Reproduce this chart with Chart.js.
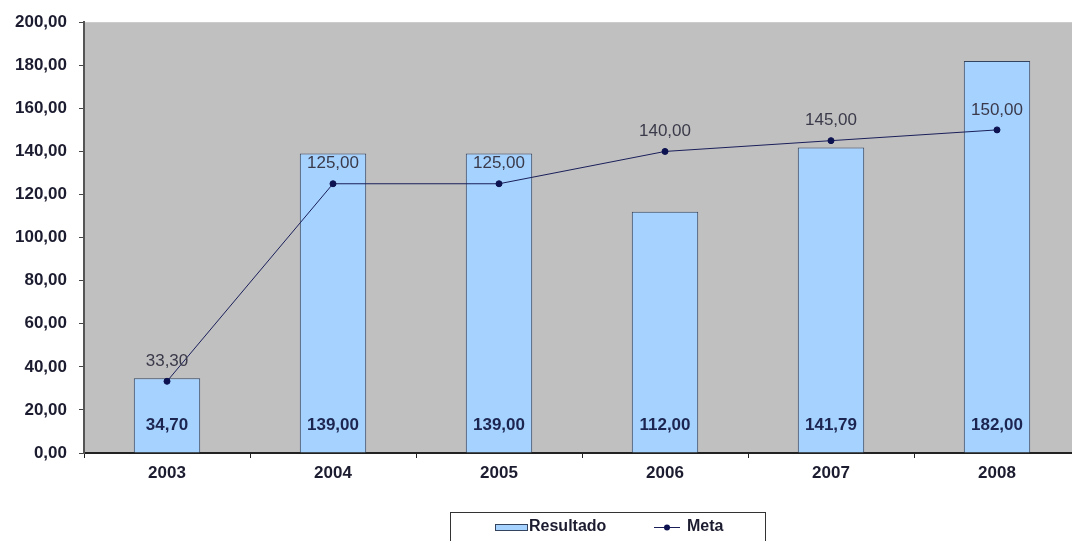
<!DOCTYPE html>
<html>
<head>
<meta charset="utf-8">
<script src="https://cdn.jsdelivr.net/npm/chart.js@4/dist/chart.umd.min.js"></script>
<style>
html,body{margin:0;padding:0;background:#fff;overflow:hidden;width:1072px;height:541px;}
#wrap{width:1085px;height:541px;}
</style>
</head>
<body>
<div id="wrap"><canvas id="c" width="1085" height="541"></canvas></div>
<script>
const categories = ['2003','2004','2005','2006','2007','2008'];
const resultado = [34.70, 139.00, 139.00, 112.00, 141.79, 182.00];
const meta = [33.30, 125.00, 125.00, 140.00, 145.00, 150.00];
const yTicks = [0,20,40,60,80,100,120,140,160,180,200];

const FONT = "'Liberation Sans', Arial, sans-serif";
const fmt = v => v.toFixed(2).replace('.', ',');

const bgPlugin = {
  id: 'plotBg',
  beforeDraw(chart) {
    const {ctx, chartArea: a} = chart;
    ctx.save();
    ctx.fillStyle = '#c0c0c0';
    ctx.fillRect(a.left, a.top, a.right - a.left, a.bottom - a.top);
    ctx.restore();
  }
};

const labelPlugin = {
  id: 'valueLabels',
  afterDatasetsDraw(chart) {
    const {ctx} = chart;
    const y = chart.scales.y;
    ctx.save();
    ctx.textAlign = 'center';
    ctx.textBaseline = 'middle';
    const barMeta = chart.getDatasetMeta(0);
    ctx.font = 'bold 17px ' + FONT;
    ctx.fillStyle = '#1c2550';
    barMeta.data.forEach((el, i) => {
      ctx.fillText(fmt(resultado[i]), el.x, y.getPixelForValue(0) - 28);
    });
    const lineMeta = chart.getDatasetMeta(1);
    ctx.font = '17px ' + FONT;
    ctx.fillStyle = '#3a3a4a';
    lineMeta.data.forEach((el, i) => {
      ctx.fillText(fmt(meta[i]), el.x, el.y - 20);
    });
    ctx.restore();
  }
};

const legendPlugin = {
  id: 'boxLegend',
  afterDraw(chart) {
    const {ctx} = chart;
    ctx.save();
    const bx = 450, by = 512, bw = 315, bh = 40;
    ctx.fillStyle = '#ffffff';
    ctx.fillRect(bx, by, bw, bh);
    ctx.strokeStyle = '#333333';
    ctx.lineWidth = 1;
    ctx.strokeRect(bx + 0.5, by + 0.5, bw, bh);
    const ds = chart.data.datasets;
    ctx.fillStyle = ds[0].backgroundColor;
    ctx.fillRect(495, 524, 32, 6);
    ctx.strokeStyle = ds[0].borderColor;
    ctx.strokeRect(495.5, 524.5, 32, 6);
    ctx.font = 'bold 16px ' + FONT;
    ctx.fillStyle = '#1c1c30';
    ctx.textBaseline = 'middle';
    ctx.textAlign = 'left';
    ctx.fillText(ds[0].label, 529, 527);
    ctx.strokeStyle = ds[1].borderColor;
    ctx.beginPath();
    ctx.moveTo(654, 527.5);
    ctx.lineTo(680, 527.5);
    ctx.stroke();
    ctx.fillStyle = ds[1].pointBackgroundColor;
    ctx.beginPath();
    ctx.arc(667, 527.5, 3, 0, Math.PI * 2);
    ctx.fill();
    ctx.fillStyle = '#1c1c30';
    ctx.fillText(ds[1].label, 687, 527);
    ctx.restore();
  }
};

new Chart(document.getElementById('c'), {
  data: {
    labels: categories,
    datasets: [
      {
        type: 'bar',
        label: 'Resultado',
        data: resultado,
        backgroundColor: '#a6d2ff',
        borderColor: '#34445e',
        borderWidth: 1,
        categoryPercentage: 1,
        barPercentage: 0.4,
        order: 2
      },
      {
        type: 'line',
        label: 'Meta',
        data: meta,
        borderColor: '#1a1f5a',
        backgroundColor: '#0d1250',
        pointBackgroundColor: '#0d1250',
        pointBorderColor: '#0d1250',
        pointRadius: 3,
        borderWidth: 1,
        tension: 0,
        fill: false,
        order: 1
      }
    ]
  },
  options: {
    responsive: false,
    animation: false,
    events: [],
    layout: { padding: { top: 19, right: 2, bottom: 29, left: 0 } },
    plugins: { legend: { display: false }, tooltip: { enabled: false } },
    scales: {
      x: {
        type: 'category',
        offset: true,
        grid: { offset: true, drawOnChartArea: false, drawTicks: true, tickLength: 5, color: '#222' },
        border: { display: true, color: '#222', width: 2 },
        ticks: { font: { family: FONT, size: 17, weight: 'bold' }, color: '#1c1c30', padding: 5 },
        afterFit(s) { s.height = 59; }
      },
      y: {
        min: 0, max: 200,
        afterBuildTicks(s) { s.ticks = yTicks.map(v => ({ value: v })); },
        grid: { drawOnChartArea: false, drawTicks: true, tickLength: 5, color: '#444' },
        border: { display: true, color: '#555', width: 2 },
        ticks: { font: { family: FONT, size: 17, weight: 'bold' }, color: '#1c1c30', padding: 12,
                 callback: v => fmt(v) },
        afterFit(s) { s.width = 84; }
      }
    }
  },
  plugins: [bgPlugin, labelPlugin, legendPlugin]
});
</script>
</body>
</html>
